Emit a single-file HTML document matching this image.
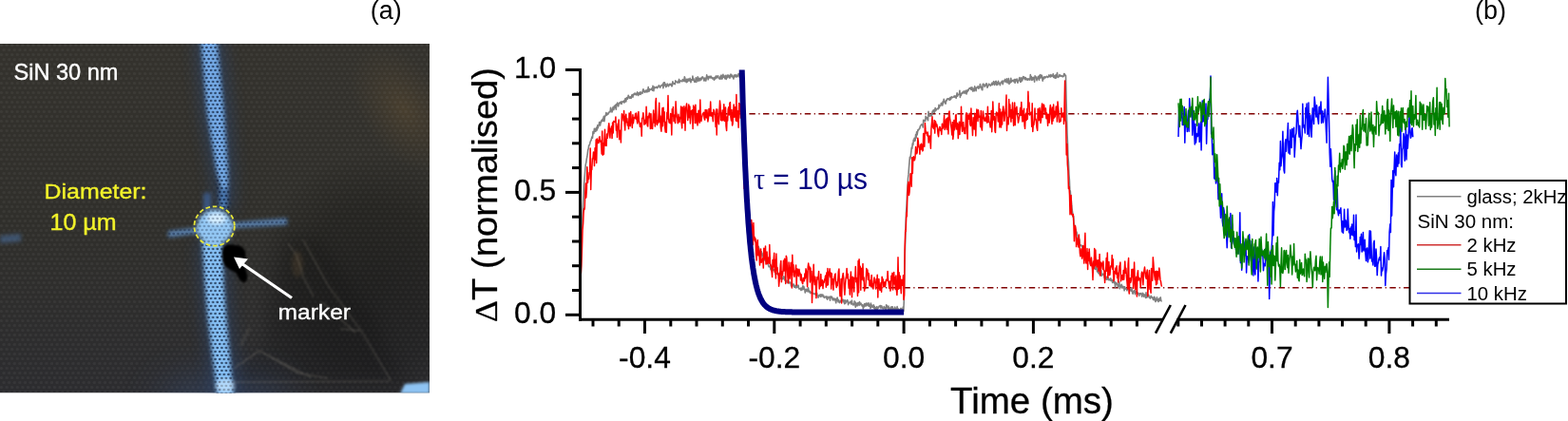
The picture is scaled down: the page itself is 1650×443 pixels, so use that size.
<!DOCTYPE html>
<html><head><meta charset="utf-8"><title>Figure</title>
<style>html,body{margin:0;padding:0;background:#fff;} svg{display:block;}</style>
</head><body>
<svg width="1650" height="443" viewBox="0 0 1650 443">
<rect width="1650" height="443" fill="#fff"/>
<defs>
  <clipPath id="pc"><rect x="0" y="46" width="452" height="367.5"/></clipPath>
  <filter id="b3" x="-50%" y="-50%" width="200%" height="200%"><feGaussianBlur stdDeviation="2.2"/></filter>
  <filter id="b2" x="-50%" y="-50%" width="200%" height="200%"><feGaussianBlur stdDeviation="1.5"/></filter>
  <filter id="b8" x="-50%" y="-50%" width="200%" height="200%"><feGaussianBlur stdDeviation="8"/></filter>
  <filter id="b20" x="-50%" y="-50%" width="200%" height="200%"><feGaussianBlur stdDeviation="20"/></filter>
  <filter id="bm" x="0" y="0" width="100%" height="100%"><feGaussianBlur stdDeviation="0.6"/></filter>
  <filter id="b1" x="-50%" y="-50%" width="200%" height="200%"><feGaussianBlur stdDeviation="0.9"/></filter>
  <pattern id="mesh" x="0" y="0" width="4.6" height="8" patternUnits="userSpaceOnUse">
    <ellipse cx="1.15" cy="2" rx="1.45" ry="1.15" fill="#0a1a36"/>
    <ellipse cx="3.45" cy="6" rx="1.45" ry="1.15" fill="#0a1a36"/>
  </pattern>
  <pattern id="meshl" x="0" y="0" width="5.6" height="10" patternUnits="userSpaceOnUse">
    <ellipse cx="4.2" cy="2.5" rx="1.8" ry="1.5" fill="#8a8a88"/>
    <ellipse cx="1.4" cy="7.5" rx="1.8" ry="1.5" fill="#8a8a88"/>
  </pattern>
  <radialGradient id="dark1" cx="0.5" cy="0.5" r="0.5">
    <stop offset="0" stop-color="#000" stop-opacity="0.3"/>
    <stop offset="0.6" stop-color="#000" stop-opacity="0.2"/>
    <stop offset="1" stop-color="#000" stop-opacity="0"/>
  </radialGradient>
  <radialGradient id="warm" cx="0.5" cy="0.5" r="0.5">
    <stop offset="0" stop-color="#6a5432" stop-opacity="0.4"/>
    <stop offset="1" stop-color="#5e4c30" stop-opacity="0"/>
  </radialGradient>
  <linearGradient id="bgv" x1="0" y1="0" x2="0" y2="1">
    <stop offset="0" stop-color="#34322d"/>
    <stop offset="0.5" stop-color="#302f2b"/>
    <stop offset="1" stop-color="#2c2c2f"/>
  </linearGradient>
  <mask id="bandmask" maskUnits="userSpaceOnUse" x="0" y="40" width="460" height="380">
    <g filter="url(#b2)" fill="#fff">
      <polygon points="209,40 230,40 238,120 242,181 242,222 230,222 226,181 216,120"/>
      <polygon points="210.5,252 235.5,252 237.6,300 240.3,335 247.5,414 249,420 226,420 226.4,414 216.5,335 213.7,300"/>
      <polygon points="175,242 215,237.5 240,233.5 304,228.5 304,237.5 240,241.5 215,245.5 175,251" fill="#999"/>
      <ellipse cx="226" cy="238" rx="21" ry="20.5" fill="#707070"/>
    </g>
  </mask>
</defs>
<g id="photo" clip-path="url(#pc)">
  <rect x="0" y="46" width="452" height="367.5" fill="url(#bgv)"/>
  <ellipse cx="0" cy="0" rx="45" ry="75" fill="url(#warm)" transform="translate(425,115) rotate(-35)"/>
  <rect x="0" y="46" width="452" height="367.5" fill="url(#meshl)" opacity="0.11"/>
  <ellipse cx="395" cy="300" rx="130" ry="140" fill="url(#dark1)"/>
  <!-- darker film area -->
  <polygon points="300,250 335,250 395,335 425,405 240,405 275,365" fill="#000" opacity="0.16" filter="url(#b8)"/>
  <!-- bluish glow at bottom near band -->
  <ellipse cx="235" cy="425" rx="70" ry="30" fill="#3a5a90" opacity="0.35" filter="url(#b20)"/>
  <!-- halo around bands -->
  <g filter="url(#b8)" opacity="0.45" fill="#2a4a7a">
    <polygon points="204,40 236,40 244,120 247,181 247,222 225,222 221,181 211,120"/>
    <polygon points="207,252 239,252 241.6,300 244.3,335 251.5,414 253,420 222,420 222.4,414 212.5,335 209.7,300"/>
  </g>
  <!-- horizontal band -->
  <g filter="url(#b3)">
    <polygon points="177,243 215,238.5 240,234.5 302,229.5 302,236.5 240,240.5 215,244.5 177,250" fill="#5a80ac"/>
    <polygon points="0,248 22,246 22,254 0,256" fill="#4a6c9c" opacity="0.6"/>
  </g>
  <!-- vertical band top -->
  <g filter="url(#b3)">
    <polygon points="211,40 228,40 236,120 240,181 240,200 233,200 228,181 218,120" fill="#74aae6"/>
    <polygon points="231,198 240,198 239,220 231,220" fill="#4b78b0"/>
    <polygon points="214,203 222,203 222,222 214,222" fill="#3a5680"/>
  </g>
  <!-- vertical band bottom -->
  <g filter="url(#b3)">
    <polygon points="212.5,252 233.5,252 235.6,300 238.3,335 245.5,414 247,420 228,420 228.4,414 218.5,335 215.7,300" fill="#86c0f4"/>
  </g>
  <!-- circle bright -->
  <ellipse cx="226" cy="239" rx="19" ry="18.5" fill="#94c8f4" filter="url(#b3)"/>
  <ellipse cx="228" cy="230" rx="10" ry="6" fill="#d6eeff" filter="url(#b3)"/>
  <!-- mesh on bands -->
  <g mask="url(#bandmask)"><rect x="0" y="40" width="460" height="380" fill="url(#mesh)" opacity="0.7" filter="url(#bm)"/></g>
  <!-- bottom bright spot -->
      <!-- film -->
  <g stroke="#b8b0a0" stroke-width="1.1" fill="none" opacity="0.28" filter="url(#b1)">
    <polyline points="319,252 345,300 380,348 411.5,401"/>
    <polyline points="303,256 312,268 319,291 330,312"/>
    <polyline points="339,318 374,350"/>
    <polyline points="358,346 380,348"/>
    <polyline points="247,387 273,369 313.7,392.6 345,398"/>
    <polyline points="245,402 410,401"/>
    <polyline points="280,373 327,397"/>
    <polyline points="262.6,345 253,364"/>
  </g>
  <ellipse cx="313" cy="278" rx="6" ry="14" fill="#8a6a40" opacity="0.18" filter="url(#b3)"/>
  <polygon points="426,404 452,402 452,414 421,414" fill="#8ec4f4" filter="url(#b2)"/>
  <ellipse cx="237" cy="406" rx="10" ry="7" fill="#d8eeff" opacity="0.55" filter="url(#b3)"/>
  <!-- marker blob -->
  <path d="M234.5,262 C236,257 243,256.5 248,258 C253,257.5 258,261 258.5,267 C259,273 257,278 258.5,284 C261,289 261,295 258,297 C254,298 251,293 249,288 C246,285 241,284 237,280 C234,275 233.5,268 234.5,262 Z" fill="#050505" filter="url(#b1)"/>
  <!-- arrow -->
  <line x1="254" y1="277" x2="307" y2="313.5" stroke="#fff" stroke-width="3.2"/>
  <polygon points="246,270.4 261,272.5 252,283" fill="#fff"/>
  <!-- dashed circle -->
  <ellipse cx="225.6" cy="238" rx="21.2" ry="20.7" fill="none" stroke="#e8e838" stroke-width="1.8" stroke-dasharray="4.6 2.8"/>
  <!-- texts -->
  <text x="14.5" y="83.7" font-family="Liberation Sans, Arial, sans-serif" font-size="23.2" fill="#fff" stroke="#fff" stroke-width="0.35" textLength="110" lengthAdjust="spacingAndGlyphs">SiN 30 nm</text>
  <text x="46.5" y="209.2" font-family="Liberation Sans, Arial, sans-serif" font-size="22.6" fill="#f2f22a" stroke="#f2f22a" stroke-width="0.35" textLength="108" lengthAdjust="spacingAndGlyphs">Diameter:</text>
  <text x="52.5" y="241.9" font-family="Liberation Sans, Arial, sans-serif" font-size="23" fill="#f2f22a" stroke="#f2f22a" stroke-width="0.35" textLength="70" lengthAdjust="spacingAndGlyphs">10 µm</text>
  <text x="292.5" y="336" font-family="Liberation Sans, Arial, sans-serif" font-size="22.6" fill="#fff" stroke="#fff" stroke-width="0.35" textLength="76.5" lengthAdjust="spacingAndGlyphs">marker</text>
</g>

<g id="plot">
<line x1="730" y1="119.7" x2="1525" y2="119.7" stroke="#800000" stroke-width="1.6" stroke-dasharray="6.4 3.5 1.2 3.5"/>
<line x1="893" y1="302.7" x2="1525" y2="302.7" stroke="#800000" stroke-width="1.6" stroke-dasharray="6.4 3.5 1.2 3.5"/>
<polyline points="612.1,252.7 612.5,237.4 613.0,224.2 613.5,215.1 614.0,205.3 614.4,195.9 614.9,190.6 615.4,184.1 615.9,177.4 616.3,172.9 616.8,171.1 617.3,167.1 617.8,165.0 618.3,161.4 618.7,157.8 619.2,156.5 619.7,152.7 620.2,152.7 620.6,151.7 621.1,149.3 621.6,148.1 622.1,147.6 622.5,145.5 623.0,143.9 623.5,145.2 624.0,138.6 624.5,138.4 624.9,140.4 625.4,135.4 625.9,138.1 626.4,135.5 626.8,138.4 627.3,135.4 627.8,134.2 628.3,136.9 628.8,131.7 629.2,134.8 629.7,133.1 630.2,131.0 630.7,128.6 631.1,130.6 631.6,132.0 632.1,128.1 632.6,128.9 633.0,126.5 633.5,127.4 634.0,125.4 634.5,127.3 635.0,124.0 635.4,122.4 635.9,127.6 636.4,123.6 636.9,121.7 637.3,121.8 637.8,118.6 638.3,121.3 638.8,119.9 639.2,119.1 639.7,120.4 640.2,119.2 640.7,118.8 641.2,117.6 641.6,117.8 642.1,117.8 642.6,113.2 643.1,116.4 643.5,115.2 644.0,118.0 644.5,116.5 645.0,112.8 645.4,114.0 645.9,115.5 646.4,111.3 646.9,112.1 647.4,113.5 647.8,110.3 648.3,115.1 648.8,109.6 649.3,110.2 649.7,108.1 650.2,110.9 650.7,111.8 651.2,108.8 651.6,108.8 652.1,107.8 652.6,108.8 653.1,107.6 653.6,106.9 654.0,109.5 654.5,107.8 655.0,106.9 655.5,106.7 655.9,107.4 656.4,106.1 656.9,108.0 657.4,107.3 657.9,103.7 658.3,103.9 658.8,106.9 659.3,102.9 659.8,102.6 660.2,104.3 660.7,103.5 661.2,100.2 661.7,101.7 662.1,102.6 662.6,103.3 663.1,101.7 663.6,102.9 664.1,103.5 664.5,101.6 665.0,99.8 665.5,101.6 666.0,102.2 666.4,99.1 666.9,99.7 667.4,99.5 667.9,98.0 668.3,99.5 668.8,98.8 669.3,98.3 669.8,100.0 670.3,99.5 670.7,96.9 671.2,99.3 671.7,100.5 672.2,97.8 672.6,99.1 673.1,99.1 673.6,96.9 674.1,99.4 674.5,97.4 675.0,97.4 675.5,97.3 676.0,98.3 676.5,94.7 676.9,93.8 677.4,95.6 677.9,96.6 678.4,97.2 678.8,96.8 679.3,95.1 679.8,95.4 680.3,96.9 680.7,95.0 681.2,94.4 681.7,96.6 682.2,91.6 682.7,95.3 683.1,96.1 683.6,93.7 684.1,94.0 684.6,94.5 685.0,94.2 685.5,94.2 686.0,92.7 686.5,95.1 687.0,90.3 687.4,93.3 687.9,95.7 688.4,91.4 688.9,91.9 689.3,92.2 689.8,92.6 690.3,91.8 690.8,91.3 691.2,91.3 691.7,92.7 692.2,91.8 692.7,91.3 693.2,89.9 693.6,90.0 694.1,90.7 694.6,92.3 695.1,91.0 695.5,90.3 696.0,89.9 696.5,89.9 697.0,89.8 697.4,88.3 697.9,92.8 698.4,86.7 698.9,90.5 699.4,86.8 699.8,88.1 700.3,88.5 700.8,91.6 701.3,90.0 701.7,90.8 702.2,88.1 702.7,88.9 703.2,89.8 703.6,90.8 704.1,89.1 704.6,88.4 705.1,89.4 705.6,88.7 706.0,88.1 706.5,89.9 707.0,90.8 707.5,89.8 707.9,85.7 708.4,88.0 708.9,88.0 709.4,88.1 709.8,87.5 710.3,88.6 710.8,84.8 711.3,85.9 711.8,85.8 712.2,86.4 712.7,86.8 713.2,86.3 713.7,87.1 714.1,85.1 714.6,83.4 715.1,87.0 715.6,85.5 716.1,84.9 716.5,85.3 717.0,85.3 717.5,85.8 718.0,85.7 718.4,83.5 718.9,84.9 719.4,84.1 719.9,85.5 720.3,80.8 720.8,82.1 721.3,85.8 721.8,83.9 722.3,86.6 722.7,83.3 723.2,86.2 723.7,83.8 724.2,83.0 724.6,84.9 725.1,85.2 725.6,84.0 726.1,82.3 726.5,84.5 727.0,86.7 727.5,83.8 728.0,83.7 728.5,84.1 728.9,80.1 729.4,84.1 729.9,82.8 730.4,85.1 730.8,86.3 731.3,86.2 731.8,84.9 732.3,81.7 732.7,86.5 733.2,83.5 733.7,83.5 734.2,80.8 734.7,85.4 735.1,84.6 735.6,82.4 736.1,84.1 736.6,84.9 737.0,82.4 737.5,82.5 738.0,83.9 738.5,81.3 738.9,81.9 739.4,80.9 739.9,81.5 740.4,83.2 740.9,84.9 741.3,83.8 741.8,82.1 742.3,84.8 742.8,85.1 743.2,82.9 743.7,78.9 744.2,81.9 744.7,80.5 745.2,83.8 745.6,81.7 746.1,80.2 746.6,80.7 747.1,81.9 747.5,81.7 748.0,80.1 748.5,82.0 749.0,81.3 749.4,81.6 749.9,83.0 750.4,82.1 750.9,81.9 751.4,84.2 751.8,82.7 752.3,81.3 752.8,82.9 753.3,80.1 753.7,79.9 754.2,81.9 754.7,80.2 755.2,80.9 755.6,79.8 756.1,81.9 756.6,82.6 757.1,82.7 757.6,83.1 758.0,80.3 758.5,82.9 759.0,79.1 759.5,81.0 759.9,83.1 760.4,81.4 760.9,78.4 761.4,81.2 761.8,79.9 762.3,81.1 762.8,82.8 763.3,79.4 763.8,80.9 764.2,83.4 764.7,80.6 765.2,79.1 765.7,81.7 766.1,79.5 766.6,79.0 767.1,79.4 767.6,81.8 768.0,82.2 768.5,79.9 769.0,78.0 769.5,80.1 770.0,80.9 770.4,79.1 770.9,79.9 771.4,81.4 771.9,83.0 772.3,80.8 772.8,78.9 773.3,80.7 773.8,80.7 774.3,78.6 774.7,79.4 775.2,81.0 775.7,80.6 776.2,80.4 776.6,78.2 777.1,77.7 777.6,77.4 778.1,81.1 778.5,77.7 779.0,82.4 779.5,80.7 780.0,79.0 780.5,80.0 780.9,89.2 781.4,109.4 781.9,127.0 782.4,143.2 782.8,154.0 783.3,166.5 783.8,177.8 784.3,184.6 784.7,191.0 785.2,200.4 785.7,203.3 786.2,210.3 786.7,213.2 787.1,217.5 787.6,219.4 788.1,224.4 788.6,229.2 789.0,233.3 789.5,233.4 790.0,236.7 790.5,236.0 790.9,239.3 791.4,240.7 791.9,243.9 792.4,247.6 792.9,248.4 793.3,251.6 793.8,252.8 794.3,250.4 794.8,253.3 795.2,254.5 795.7,255.3 796.2,255.6 796.7,256.8 797.1,259.8 797.6,261.1 798.1,259.3 798.6,260.9 799.1,264.1 799.5,265.8 800.0,264.5 800.5,265.2 801.0,267.3 801.4,264.8 801.9,268.2 802.4,269.7 802.9,267.1 803.4,272.3 803.8,271.5 804.3,273.6 804.8,270.5 805.3,274.5 805.7,274.4 806.2,275.0 806.7,277.4 807.2,275.2 807.6,273.4 808.1,277.3 808.6,279.3 809.1,280.7 809.6,280.4 810.0,280.2 810.5,280.8 811.0,283.8 811.5,279.1 811.9,282.0 812.4,285.1 812.9,280.5 813.4,284.5 813.8,283.5 814.3,284.4 814.8,284.0 815.3,284.9 815.8,285.8 816.2,288.6 816.7,286.7 817.2,288.3 817.7,288.2 818.1,287.5 818.6,288.6 819.1,288.5 819.6,290.0 820.0,290.7 820.5,292.1 821.0,293.6 821.5,293.2 822.0,291.5 822.4,289.4 822.9,293.6 823.4,292.6 823.9,293.7 824.3,292.5 824.8,290.7 825.3,291.7 825.8,294.7 826.2,295.2 826.7,294.4 827.2,296.0 827.7,296.5 828.2,297.4 828.6,295.5 829.1,297.8 829.6,294.2 830.1,297.5 830.5,297.9 831.0,297.2 831.5,297.7 832.0,297.1 832.5,301.0 832.9,298.9 833.4,298.9 833.9,301.2 834.4,300.4 834.8,299.0 835.3,299.0 835.8,302.2 836.3,301.3 836.7,302.2 837.2,300.2 837.7,303.0 838.2,301.4 838.7,300.0 839.1,302.2 839.6,300.7 840.1,300.2 840.6,303.8 841.0,303.9 841.5,303.9 842.0,303.7 842.5,303.2 842.9,305.5 843.4,303.3 843.9,305.0 844.4,302.6 844.9,300.9 845.3,304.5 845.8,301.4 846.3,303.1 846.8,304.3 847.2,308.0 847.7,305.1 848.2,306.6 848.7,304.3 849.1,304.4 849.6,305.9 850.1,307.0 850.6,302.8 851.1,306.4 851.5,305.9 852.0,307.8 852.5,306.7 853.0,308.6 853.4,307.5 853.9,308.0 854.4,308.8 854.9,308.9 855.3,308.6 855.8,308.8 856.3,309.1 856.8,309.4 857.3,309.5 857.7,308.9 858.2,310.0 858.7,308.9 859.2,310.4 859.6,308.2 860.1,311.1 860.6,311.9 861.1,313.2 861.6,310.8 862.0,311.3 862.5,310.2 863.0,311.4 863.5,312.3 863.9,309.7 864.4,311.9 864.9,310.0 865.4,311.4 865.8,310.0 866.3,312.3 866.8,311.3 867.3,313.4 867.8,312.7 868.2,312.8 868.7,312.3 869.2,311.9 869.7,313.9 870.1,312.1 870.6,315.1 871.1,314.0 871.6,313.2 872.0,312.2 872.5,312.8 873.0,313.6 873.5,316.2 874.0,311.7 874.4,313.4 874.9,312.7 875.4,312.2 875.9,314.2 876.3,315.7 876.8,314.0 877.3,315.7 877.8,314.1 878.2,315.8 878.7,314.6 879.2,316.1 879.7,318.8 880.2,314.2 880.6,316.4 881.1,313.0 881.6,315.6 882.1,317.8 882.5,315.5 883.0,317.7 883.5,318.6 884.0,318.0 884.4,316.6 884.9,316.2 885.4,316.3 885.9,316.3 886.4,316.1 886.8,315.1 887.3,317.8 887.8,315.8 888.3,317.0 888.7,319.8 889.2,315.9 889.7,319.2 890.2,316.6 890.7,317.8 891.1,316.5 891.6,315.5 892.1,316.7 892.6,320.6 893.0,318.0 893.5,318.9 894.0,318.7 894.5,318.6 894.9,317.2 895.4,318.3 895.9,320.1 896.4,316.1 896.9,319.5 897.3,319.7 897.8,320.9 898.3,319.7 898.8,320.6 899.2,316.9 899.7,317.6 900.2,323.3 900.7,318.6 901.1,319.9 901.6,321.8 902.1,321.9 902.6,318.9 903.1,319.9 903.5,318.6 904.0,321.4 904.5,317.6 905.0,319.6 905.4,320.6 905.9,319.0 906.4,320.3 906.9,321.3 907.3,322.2 907.8,320.5 908.3,324.9 908.8,322.1 909.3,323.0 909.7,319.8 910.2,319.5 910.7,321.9 911.2,322.0 911.6,319.0 912.1,321.0 912.6,319.2 913.1,321.6 913.5,320.7 914.0,318.7 914.5,322.3 915.0,320.5 915.5,320.8 915.9,324.5 916.4,319.1 916.9,323.4 917.4,321.0 917.8,322.2 918.3,323.2 918.8,322.9 919.3,320.9 919.8,324.5 920.2,322.4 920.7,326.3 921.2,323.7 921.7,326.5 922.1,323.6 922.6,322.6 923.1,326.6 923.6,323.3 924.0,324.0 924.5,323.9 925.0,322.4 925.5,322.7 926.0,321.5 926.4,321.6 926.9,324.1 927.4,321.9 927.9,322.1 928.3,323.7 928.8,324.4 929.3,324.8 929.8,324.9 930.2,322.6 930.7,324.5 931.2,323.6 931.7,325.1 932.2,325.5 932.6,320.8 933.1,321.3 933.6,322.8 934.1,324.2 934.5,325.6 935.0,322.0 935.5,326.3 936.0,324.4 936.4,324.1 936.9,327.0 937.4,324.6 937.9,322.7 938.4,323.4 938.8,327.6 939.3,322.8 939.8,326.8 940.3,324.9 940.7,325.1 941.2,326.5 941.7,323.1 942.2,324.9 942.6,324.4 943.1,327.2 943.6,326.5 944.1,322.6 944.6,325.2 945.0,325.6 945.5,325.1 946.0,326.7 946.5,328.3 946.9,327.3 947.4,325.6 947.9,324.3 948.4,324.7 948.9,327.9 949.3,327.1 949.8,326.9 950.3,323.0 950.8,327.4 951.2,318.8 951.7,291.9 952.2,269.1 952.7,252.2 953.1,236.7 953.6,222.5 954.1,215.8 954.6,203.3 955.1,196.4 955.5,187.6 956.0,183.9 956.5,176.0 957.0,170.3 957.4,165.2 957.9,166.9 958.4,163.2 958.9,158.9 959.3,155.1 959.8,156.2 960.3,150.9 960.8,152.4 961.3,147.1 961.7,148.3 962.2,145.2 962.7,148.5 963.2,147.2 963.6,141.5 964.1,145.2 964.6,138.8 965.1,141.9 965.5,139.4 966.0,136.5 966.5,136.9 967.0,136.2 967.5,135.1 967.9,135.0 968.4,132.7 968.9,132.1 969.4,131.5 969.8,130.8 970.3,131.7 970.8,131.6 971.3,134.0 971.7,126.4 972.2,128.0 972.7,126.8 973.2,126.1 973.7,127.5 974.1,122.4 974.6,124.6 975.1,124.9 975.6,123.7 976.0,124.0 976.5,126.8 977.0,117.3 977.5,121.2 978.0,121.7 978.4,122.1 978.9,120.8 979.4,121.0 979.9,121.9 980.3,122.0 980.8,119.4 981.3,117.0 981.8,117.8 982.2,115.8 982.7,116.0 983.2,118.3 983.7,115.6 984.2,113.5 984.6,116.6 985.1,115.4 985.6,115.5 986.1,114.2 986.5,114.2 987.0,114.1 987.5,114.7 988.0,110.3 988.4,113.4 988.9,111.3 989.4,111.2 989.9,111.1 990.4,108.5 990.8,110.0 991.3,108.3 991.8,111.0 992.3,106.5 992.7,108.7 993.2,104.3 993.7,106.0 994.2,107.2 994.6,107.4 995.1,109.2 995.6,105.6 996.1,106.0 996.6,104.0 997.0,104.6 997.5,103.9 998.0,104.0 998.5,104.8 998.9,103.6 999.4,105.2 999.9,102.6 1000.4,104.8 1000.8,103.9 1001.3,101.8 1001.8,102.2 1002.3,102.6 1002.8,102.4 1003.2,102.3 1003.7,101.8 1004.2,100.9 1004.7,102.1 1005.1,101.7 1005.6,101.0 1006.1,103.2 1006.6,101.2 1007.1,97.8 1007.5,101.3 1008.0,99.6 1008.5,99.6 1009.0,99.1 1009.4,99.5 1009.9,95.3 1010.4,102.4 1010.9,98.9 1011.3,100.3 1011.8,98.1 1012.3,98.5 1012.8,97.2 1013.3,98.0 1013.7,97.2 1014.2,95.9 1014.7,97.5 1015.2,98.2 1015.6,97.9 1016.1,95.2 1016.6,96.1 1017.1,99.0 1017.5,95.1 1018.0,96.7 1018.5,94.9 1019.0,95.1 1019.5,93.3 1019.9,93.3 1020.4,92.6 1020.9,93.4 1021.4,92.2 1021.8,94.4 1022.3,94.2 1022.8,91.8 1023.3,93.8 1023.7,96.0 1024.2,93.3 1024.7,93.3 1025.2,95.8 1025.7,90.9 1026.1,94.2 1026.6,92.6 1027.1,95.6 1027.6,92.1 1028.0,92.3 1028.5,91.6 1029.0,90.8 1029.5,92.9 1029.9,93.2 1030.4,91.4 1030.9,91.6 1031.4,88.5 1031.9,91.1 1032.3,92.4 1032.8,91.7 1033.3,94.5 1033.8,94.7 1034.2,88.7 1034.7,88.2 1035.2,89.0 1035.7,89.8 1036.2,91.3 1036.6,90.4 1037.1,88.9 1037.6,88.2 1038.1,87.8 1038.5,90.6 1039.0,92.3 1039.5,90.3 1040.0,90.4 1040.4,88.3 1040.9,88.6 1041.4,89.1 1041.9,89.3 1042.4,90.3 1042.8,89.1 1043.3,89.1 1043.8,87.3 1044.3,89.3 1044.7,88.9 1045.2,86.7 1045.7,85.7 1046.2,88.1 1046.6,89.5 1047.1,87.9 1047.6,85.8 1048.1,85.3 1048.6,88.8 1049.0,89.6 1049.5,86.7 1050.0,88.9 1050.5,85.4 1050.9,87.6 1051.4,87.2 1051.9,88.5 1052.4,89.7 1052.8,87.8 1053.3,86.7 1053.8,87.0 1054.3,85.6 1054.8,85.2 1055.2,88.6 1055.7,86.7 1056.2,85.0 1056.7,85.0 1057.1,84.9 1057.6,83.4 1058.1,86.3 1058.6,85.3 1059.0,86.0 1059.5,82.7 1060.0,87.2 1060.5,85.3 1061.0,86.2 1061.4,82.5 1061.9,88.5 1062.4,85.4 1062.9,87.0 1063.3,86.9 1063.8,82.4 1064.3,86.1 1064.8,85.7 1065.3,84.6 1065.7,84.6 1066.2,85.1 1066.7,85.8 1067.2,83.7 1067.6,83.5 1068.1,87.3 1068.6,83.6 1069.1,85.1 1069.5,84.1 1070.0,83.0 1070.5,86.1 1071.0,87.2 1071.5,84.9 1071.9,85.1 1072.4,83.0 1072.9,81.5 1073.4,82.9 1073.8,86.3 1074.3,86.2 1074.8,81.9 1075.3,83.4 1075.7,84.9 1076.2,82.7 1076.7,80.5 1077.2,82.4 1077.7,81.0 1078.1,82.5 1078.6,83.7 1079.1,81.5 1079.6,82.4 1080.0,83.7 1080.5,84.0 1081.0,82.8 1081.5,84.2 1081.9,83.9 1082.4,82.9 1082.9,83.1 1083.4,84.0 1083.9,84.1 1084.3,78.6 1084.8,80.6 1085.3,80.6 1085.8,84.4 1086.2,81.7 1086.7,83.9 1087.2,81.3 1087.7,82.5 1088.1,82.1 1088.6,86.1 1089.1,79.8 1089.6,80.9 1090.1,80.9 1090.5,81.8 1091.0,84.7 1091.5,82.8 1092.0,81.6 1092.4,80.4 1092.9,82.0 1093.4,84.1 1093.9,79.3 1094.4,82.1 1094.8,78.6 1095.3,80.3 1095.8,81.6 1096.3,79.2 1096.7,81.9 1097.2,85.2 1097.7,81.8 1098.2,81.2 1098.6,82.9 1099.1,81.0 1099.6,80.8 1100.1,81.8 1100.6,81.2 1101.0,80.8 1101.5,80.3 1102.0,80.6 1102.5,81.5 1102.9,80.8 1103.4,80.7 1103.9,78.9 1104.4,80.4 1104.8,79.2 1105.3,81.0 1105.8,78.6 1106.3,79.2 1106.8,80.5 1107.2,79.9 1107.7,79.7 1108.2,77.7 1108.7,81.4 1109.1,79.6 1109.6,80.7 1110.1,82.1 1110.6,79.1 1111.0,82.3 1111.5,80.3 1112.0,78.6 1112.5,76.6 1113.0,81.5 1113.4,80.8 1113.9,81.1 1114.4,80.5 1114.9,78.6 1115.3,79.5 1115.8,80.1 1116.3,79.4 1116.8,80.2 1117.2,79.9 1117.7,80.0 1118.2,80.8 1118.7,79.9 1119.2,80.3 1119.6,77.6 1120.1,77.6 1120.6,78.7 1121.1,80.1 1121.5,79.4 1122.0,103.1 1122.5,122.1 1123.0,140.5 1123.5,151.0 1123.9,164.7 1124.4,170.6 1124.9,183.0 1125.4,189.8 1125.8,200.3 1126.3,201.0 1126.8,209.0 1127.3,210.7 1127.7,216.2 1128.2,221.0 1128.7,224.1 1129.2,228.4 1129.7,227.5 1130.1,235.3 1130.6,237.7 1131.1,237.4 1131.6,240.5 1132.0,241.6 1132.5,243.8 1133.0,244.2 1133.5,247.7 1133.9,247.9 1134.4,249.9 1134.9,251.3 1135.4,253.4 1135.9,252.1 1136.3,257.4 1136.8,258.4 1137.3,257.8 1137.8,258.5 1138.2,258.4 1138.7,260.0 1139.2,260.7 1139.7,261.5 1140.1,262.2 1140.6,266.3 1141.1,265.7 1141.6,268.8 1142.1,264.4 1142.5,264.3 1143.0,270.6 1143.5,270.4 1144.0,270.3 1144.4,269.9 1144.9,269.7 1145.4,273.5 1145.9,273.0 1146.3,273.4 1146.8,275.4 1147.3,277.2 1147.8,277.0 1148.3,276.1 1148.7,276.5 1149.2,277.8 1149.7,280.7 1150.2,279.3 1150.6,280.2 1151.1,279.3 1151.6,280.1 1152.1,282.7 1152.6,283.4 1153.0,283.2 1153.5,280.4 1154.0,282.4 1154.5,286.0 1154.9,283.0 1155.4,283.3 1155.9,287.6 1156.4,287.6 1156.8,286.7 1157.3,288.9 1157.8,289.6 1158.3,285.8 1158.8,284.8 1159.2,290.3 1159.7,289.4 1160.2,288.4 1160.7,289.0 1161.1,288.0 1161.6,289.4 1162.1,291.2 1162.6,293.1 1163.0,291.0 1163.5,293.7 1164.0,291.4 1164.5,294.1 1165.0,291.5 1165.4,290.8 1165.9,294.1 1166.4,292.5 1166.9,294.7 1167.3,294.0 1167.8,294.1 1168.3,295.0 1168.8,292.9 1169.2,295.5 1169.7,294.2 1170.2,295.0 1170.7,297.5 1171.2,296.8 1171.6,294.1 1172.1,297.0 1172.6,297.9 1173.1,296.3 1173.5,302.2 1174.0,299.1 1174.5,297.5 1175.0,298.8 1175.4,298.4 1175.9,299.5 1176.4,301.6 1176.9,300.7 1177.4,299.1 1177.8,296.3 1178.3,303.8 1178.8,301.7 1179.3,300.3 1179.7,301.9 1180.2,299.2 1180.7,301.2 1181.2,302.8 1181.7,301.4 1182.1,301.9 1182.6,301.5 1183.1,305.8 1183.6,301.8 1184.0,304.1 1184.5,303.3 1185.0,303.9 1185.5,303.7 1185.9,305.8 1186.4,304.0 1186.9,303.7 1187.4,302.2 1187.9,303.2 1188.3,307.1 1188.8,304.8 1189.3,305.2 1189.8,304.2 1190.2,306.2 1190.7,302.7 1191.2,304.9 1191.7,308.5 1192.1,309.2 1192.6,308.0 1193.1,306.0 1193.6,306.7 1194.1,305.6 1194.5,309.6 1195.0,308.5 1195.5,306.7 1196.0,308.2 1196.4,308.4 1196.9,307.7 1197.4,309.1 1197.9,308.6 1198.3,310.0 1198.8,311.1 1199.3,308.9 1199.8,309.1 1200.3,308.6 1200.7,309.8 1201.2,309.9 1201.7,312.2 1202.2,308.2 1202.6,310.2 1203.1,309.0 1203.6,312.2 1204.1,309.8 1204.5,311.0 1205.0,310.7 1205.5,313.4 1206.0,307.7 1206.5,313.1 1206.9,312.6 1207.4,312.6 1207.9,309.7 1208.4,310.9 1208.8,310.6 1209.3,313.0 1209.8,312.6 1210.3,314.1 1210.8,312.9 1211.2,311.3 1211.7,313.0 1212.2,313.0 1212.7,312.7 1213.1,314.3 1213.6,315.4 1214.1,315.6 1214.6,312.3 1215.0,312.9 1215.5,315.2 1216.0,317.5 1216.5,314.9 1217.0,314.7 1217.4,312.9 1217.9,316.2 1218.4,314.7 1218.9,317.5 1219.3,316.1 1219.8,314.1 1220.3,316.4 1220.8,316.0 1221.2,312.9 1221.7,316.0 1222.2,316.9 1222.7,316.9" fill="none" stroke="#808080" stroke-width="1.6" stroke-linejoin="round"/>
<polyline points="611.4,287.6 611.9,279.0 612.5,260.5 613.0,242.1 613.6,235.5 614.1,224.0 614.6,219.2 615.2,220.1 615.7,204.6 616.3,193.1 616.8,207.9 617.4,199.1 617.9,175.7 618.5,192.2 619.0,187.5 619.6,188.3 620.1,181.5 620.6,183.1 621.2,156.0 621.7,199.4 622.3,178.1 622.8,178.5 623.4,166.8 623.9,167.0 624.5,159.9 625.0,163.2 625.5,174.6 626.1,155.7 626.6,168.1 627.2,146.9 627.7,171.6 628.3,145.9 628.8,150.5 629.4,148.0 629.9,150.6 630.5,144.9 631.0,143.7 631.5,149.0 632.1,148.2 632.6,151.1 633.2,162.0 633.7,138.0 634.3,163.2 634.8,150.9 635.4,162.2 635.9,148.3 636.5,136.3 637.0,153.1 637.5,146.8 638.1,153.4 638.6,141.1 639.2,145.3 639.7,142.7 640.3,133.3 640.8,129.8 641.4,137.3 641.9,145.1 642.4,135.6 643.0,136.0 643.5,133.0 644.1,145.6 644.6,129.0 645.2,139.9 645.7,127.5 646.3,128.3 646.8,128.0 647.4,128.4 647.9,123.0 648.4,137.1 649.0,133.0 649.5,144.4 650.1,130.3 650.6,133.3 651.2,125.9 651.7,146.8 652.3,140.0 652.8,137.3 653.4,150.0 653.9,132.0 654.4,119.8 655.0,122.2 655.5,121.6 656.1,126.9 656.6,116.5 657.2,131.0 657.7,137.0 658.3,122.7 658.8,120.2 659.3,128.7 659.9,124.8 660.4,131.9 661.0,129.1 661.5,135.6 662.1,119.0 662.6,128.2 663.2,132.7 663.7,117.4 664.3,126.4 664.8,128.6 665.3,134.4 665.9,120.7 666.4,129.7 667.0,125.4 667.5,123.5 668.1,124.3 668.6,119.6 669.2,125.2 669.7,119.0 670.3,127.1 670.8,129.9 671.3,126.5 671.9,117.5 672.4,126.9 673.0,129.6 673.5,133.4 674.1,131.3 674.6,129.5 675.2,143.2 675.7,124.4 676.3,124.1 676.8,118.7 677.3,121.9 677.9,131.1 678.4,126.5 679.0,130.4 679.5,129.2 680.1,112.3 680.6,122.0 681.2,131.9 681.7,133.0 682.2,122.4 682.8,123.7 683.3,119.1 683.9,120.3 684.4,135.5 685.0,119.8 685.5,135.1 686.1,130.6 686.6,135.4 687.2,123.3 687.7,115.9 688.2,128.9 688.8,120.3 689.3,133.0 689.9,107.7 690.4,103.4 691.0,130.2 691.5,131.5 692.1,126.8 692.6,129.5 693.2,119.4 693.7,108.2 694.2,128.6 694.8,122.1 695.3,134.5 695.9,138.2 696.4,123.0 697.0,113.8 697.5,132.8 698.1,113.2 698.6,127.8 699.1,117.8 699.7,133.8 700.2,138.9 700.8,128.6 701.3,139.2 701.9,118.3 702.4,124.7 703.0,100.5 703.5,124.1 704.1,129.0 704.6,126.2 705.1,129.7 705.7,119.5 706.2,120.6 706.8,142.1 707.3,114.7 707.9,122.2 708.4,112.4 709.0,127.8 709.5,121.0 710.1,125.3 710.6,129.6 711.1,106.8 711.7,118.0 712.2,122.4 712.8,125.2 713.3,129.7 713.9,120.3 714.4,126.6 715.0,128.6 715.5,123.2 716.1,124.8 716.6,112.0 717.1,129.0 717.7,134.8 718.2,112.8 718.8,122.6 719.3,129.4 719.9,111.8 720.4,115.5 721.0,137.2 721.5,114.1 722.0,112.5 722.6,108.9 723.1,118.6 723.7,126.6 724.2,122.2 724.8,110.0 725.3,123.8 725.9,112.1 726.4,129.9 727.0,123.3 727.5,116.6 728.0,116.6 728.6,115.8 729.1,135.6 729.7,110.9 730.2,113.6 730.8,112.9 731.3,129.4 731.9,110.3 732.4,124.0 733.0,129.7 733.5,119.5 734.0,132.0 734.6,127.5 735.1,116.3 735.7,121.3 736.2,129.3 736.8,105.0 737.3,123.9 737.9,127.7 738.4,123.8 738.9,122.1 739.5,119.5 740.0,119.0 740.6,118.3 741.1,124.7 741.7,126.1 742.2,115.4 742.8,121.9 743.3,123.9 743.9,115.5 744.4,120.4 744.9,127.9 745.5,124.0 746.0,114.5 746.6,117.4 747.1,121.9 747.7,107.0 748.2,121.0 748.8,122.2 749.3,118.5 749.9,124.0 750.4,127.7 750.9,115.2 751.5,116.5 752.0,119.7 752.6,121.1 753.1,133.4 753.7,115.0 754.2,142.1 754.8,114.9 755.3,125.0 755.9,127.2 756.4,130.7 756.9,118.3 757.5,106.1 758.0,110.7 758.6,126.4 759.1,118.9 759.7,127.0 760.2,115.9 760.8,126.5 761.3,123.8 761.8,109.8 762.4,127.4 762.9,126.3 763.5,113.1 764.0,132.5 764.6,137.5 765.1,122.9 765.7,126.9 766.2,115.1 766.8,112.7 767.3,121.0 767.8,108.8 768.4,107.6 768.9,122.8 769.5,126.9 770.0,115.5 770.6,132.0 771.1,130.0 771.7,116.9 772.2,109.9 772.8,123.2 773.3,112.7 773.8,114.4 774.4,127.0 774.9,99.6 775.5,127.8 776.0,116.6 776.6,118.4 777.1,134.3 777.7,108.6 778.2,113.7 778.7,109.6 779.3,124.3 779.8,123.2 780.4,101.9 780.9,118.1 781.5,141.9 782.0,157.6 782.6,163.4 783.1,198.4 783.7,182.7 784.2,191.9 784.7,202.6 785.3,213.4 785.8,213.4 786.4,214.8 786.9,235.8 787.5,235.4 788.0,223.9 788.6,238.1 789.1,237.0 789.7,241.5 790.2,240.7 790.7,231.4 791.3,237.2 791.8,247.3 792.4,257.4 792.9,234.6 793.5,251.7 794.0,249.3 794.6,253.8 795.1,251.3 795.6,268.0 796.2,273.9 796.7,255.7 797.3,252.6 797.8,268.8 798.4,261.4 798.9,266.7 799.5,278.9 800.0,268.4 800.6,262.1 801.1,276.3 801.6,273.9 802.2,274.8 802.7,271.8 803.3,282.1 803.8,261.2 804.4,272.8 804.9,267.4 805.5,259.1 806.0,278.1 806.6,272.9 807.1,265.0 807.6,277.5 808.2,272.8 808.7,271.1 809.3,276.9 809.8,257.4 810.4,276.3 810.9,279.6 811.5,280.2 812.0,285.5 812.6,291.5 813.1,273.5 813.6,281.1 814.2,272.7 814.7,266.2 815.3,286.4 815.8,273.5 816.4,292.9 816.9,267.1 817.5,284.7 818.0,281.6 818.5,288.7 819.1,287.5 819.6,301.3 820.2,294.6 820.7,288.4 821.3,278.5 821.8,274.5 822.4,296.7 822.9,285.9 823.5,289.8 824.0,284.5 824.5,274.2 825.1,285.0 825.6,272.3 826.2,273.5 826.7,298.6 827.3,269.3 827.8,270.9 828.4,282.5 828.9,291.1 829.5,297.7 830.0,275.9 830.5,283.5 831.1,293.1 831.6,286.3 832.2,276.3 832.7,280.2 833.3,303.0 833.8,268.2 834.4,286.0 834.9,278.5 835.4,289.6 836.0,291.1 836.5,285.2 837.1,284.5 837.6,279.0 838.2,299.9 838.7,282.8 839.3,283.3 839.8,289.6 840.4,290.7 840.9,283.2 841.4,286.4 842.0,287.5 842.5,295.0 843.1,288.8 843.6,293.9 844.2,297.4 844.7,298.6 845.3,292.5 845.8,293.3 846.4,295.7 846.9,288.0 847.4,292.9 848.0,282.8 848.5,285.1 849.1,292.8 849.6,301.7 850.2,280.9 850.7,277.1 851.3,283.1 851.8,280.5 852.4,297.0 852.9,282.1 853.4,294.7 854.0,285.5 854.5,318.6 855.1,300.1 855.6,290.5 856.2,278.3 856.7,294.8 857.3,299.6 857.8,291.3 858.3,295.8 858.9,313.6 859.4,300.8 860.0,291.6 860.5,293.9 861.1,291.6 861.6,285.5 862.2,303.9 862.7,300.9 863.3,301.2 863.8,288.6 864.3,300.4 864.9,297.6 865.4,294.8 866.0,303.6 866.5,296.5 867.1,297.4 867.6,294.4 868.2,292.7 868.7,290.0 869.3,302.2 869.8,287.1 870.3,300.2 870.9,282.5 871.4,299.8 872.0,286.3 872.5,289.6 873.1,282.8 873.6,291.6 874.2,287.0 874.7,303.9 875.2,287.8 875.8,299.1 876.3,293.6 876.9,305.1 877.4,298.8 878.0,292.2 878.5,289.1 879.1,288.0 879.6,299.1 880.2,302.5 880.7,297.1 881.2,300.8 881.8,294.0 882.3,285.9 882.9,282.9 883.4,302.2 884.0,311.7 884.5,310.3 885.1,293.5 885.6,319.0 886.2,294.3 886.7,290.3 887.2,287.6 887.8,292.8 888.3,302.8 888.9,310.3 889.4,300.9 890.0,293.3 890.5,291.0 891.1,282.4 891.6,292.8 892.2,288.2 892.7,296.3 893.2,303.2 893.8,294.6 894.3,310.1 894.9,293.7 895.4,285.9 896.0,301.8 896.5,312.7 897.1,291.3 897.6,301.2 898.1,292.0 898.7,306.9 899.2,292.8 899.8,293.2 900.3,280.6 900.9,296.7 901.4,292.5 902.0,300.4 902.5,311.4 903.1,274.4 903.6,307.8 904.1,272.8 904.7,288.0 905.2,280.3 905.8,305.3 906.3,282.2 906.9,294.2 907.4,289.0 908.0,277.6 908.5,295.4 909.1,292.1 909.6,306.1 910.1,301.8 910.7,303.6 911.2,296.8 911.8,282.6 912.3,289.4 912.9,283.9 913.4,294.5 914.0,287.5 914.5,289.8 915.0,300.7 915.6,298.3 916.1,295.0 916.7,301.8 917.2,289.6 917.8,301.6 918.3,298.9 918.9,303.9 919.4,296.9 920.0,291.9 920.5,297.4 921.0,297.1 921.6,303.9 922.1,293.7 922.7,297.1 923.2,289.2 923.8,312.9 924.3,294.0 924.9,293.5 925.4,302.5 926.0,305.4 926.5,302.2 927.0,297.6 927.6,307.3 928.1,291.2 928.7,293.7 929.2,294.0 929.8,302.0 930.3,298.1 930.9,296.8 931.4,301.7 931.9,299.0 932.5,294.2 933.0,295.3 933.6,294.9 934.1,285.4 934.7,295.6 935.2,297.8 935.8,303.4 936.3,296.1 936.9,306.1 937.4,304.0 937.9,290.2 938.5,292.5 939.0,287.2 939.6,305.0 940.1,290.5 940.7,286.6 941.2,299.0 941.8,292.1 942.3,304.5 942.9,290.0 943.4,305.5 943.9,310.5 944.5,299.6 945.0,270.8 945.6,304.2 946.1,286.8 946.7,303.2 947.2,290.2 947.8,301.3 948.3,308.8 948.9,294.3 949.4,295.2 949.9,300.2 950.5,289.8 951.0,315.3 951.6,310.7 952.1,263.7 952.7,242.2 953.2,243.5 953.8,223.7 954.3,227.7 954.8,206.4 955.4,195.1 955.9,191.3 956.5,205.5 957.0,202.5 957.6,193.1 958.1,182.9 958.7,182.6 959.2,196.2 959.8,165.8 960.3,182.6 960.8,166.9 961.4,164.8 961.9,168.8 962.5,168.3 963.0,166.1 963.6,154.6 964.1,160.7 964.7,161.8 965.2,160.3 965.8,145.3 966.3,148.8 966.8,154.7 967.4,154.7 967.9,162.3 968.5,152.2 969.0,157.3 969.6,151.2 970.1,154.1 970.7,158.8 971.2,158.6 971.7,140.5 972.3,143.6 972.8,154.2 973.4,129.5 973.9,136.4 974.5,140.1 975.0,139.4 975.6,142.7 976.1,138.9 976.7,142.5 977.2,150.1 977.7,143.2 978.3,143.1 978.8,146.2 979.4,156.2 979.9,136.0 980.5,129.2 981.0,122.8 981.6,133.5 982.1,134.6 982.7,135.5 983.2,126.5 983.7,140.1 984.3,127.4 984.8,129.3 985.4,133.0 985.9,131.1 986.5,135.0 987.0,140.8 987.6,143.7 988.1,136.2 988.7,133.6 989.2,133.7 989.7,137.5 990.3,136.1 990.8,141.4 991.4,130.3 991.9,135.5 992.5,134.0 993.0,130.3 993.6,121.3 994.1,136.4 994.6,134.4 995.2,127.3 995.7,125.2 996.3,136.2 996.8,124.3 997.4,124.0 997.9,141.0 998.5,118.6 999.0,116.9 999.6,124.8 1000.1,127.7 1000.6,131.8 1001.2,135.6 1001.7,141.9 1002.3,128.6 1002.8,146.4 1003.4,141.2 1003.9,126.5 1004.5,136.7 1005.0,133.5 1005.6,121.5 1006.1,120.5 1006.6,136.1 1007.2,129.5 1007.7,130.4 1008.3,145.6 1008.8,136.1 1009.4,128.2 1009.9,141.5 1010.5,128.3 1011.0,132.4 1011.5,112.2 1012.1,134.2 1012.6,138.3 1013.2,129.6 1013.7,128.6 1014.3,137.1 1014.8,140.2 1015.4,134.5 1015.9,140.7 1016.5,120.6 1017.0,118.8 1017.5,130.3 1018.1,146.2 1018.6,121.0 1019.2,123.0 1019.7,125.3 1020.3,119.2 1020.8,130.8 1021.4,132.5 1021.9,114.1 1022.5,131.2 1023.0,131.5 1023.5,142.6 1024.1,123.8 1024.6,126.6 1025.2,135.9 1025.7,119.2 1026.3,127.8 1026.8,142.9 1027.4,121.8 1027.9,115.0 1028.5,120.1 1029.0,127.6 1029.5,115.7 1030.1,121.9 1030.6,123.2 1031.2,122.2 1031.7,133.6 1032.3,116.5 1032.8,134.3 1033.4,137.1 1033.9,125.2 1034.4,117.0 1035.0,121.3 1035.5,125.3 1036.1,127.4 1036.6,126.1 1037.2,123.2 1037.7,127.6 1038.3,119.7 1038.8,129.3 1039.4,112.3 1039.9,128.2 1040.4,122.4 1041.0,128.8 1041.5,128.9 1042.1,133.9 1042.6,131.7 1043.2,116.5 1043.7,138.7 1044.3,126.5 1044.8,107.0 1045.4,122.9 1045.9,126.5 1046.4,122.5 1047.0,137.9 1047.5,139.4 1048.1,121.4 1048.6,117.9 1049.2,121.0 1049.7,118.9 1050.3,128.0 1050.8,122.7 1051.3,108.7 1051.9,133.9 1052.4,114.9 1053.0,129.7 1053.5,134.0 1054.1,118.0 1054.6,131.0 1055.2,115.8 1055.7,112.0 1056.3,117.7 1056.8,127.3 1057.3,124.0 1057.9,117.9 1058.4,113.4 1059.0,100.0 1059.5,137.4 1060.1,123.5 1060.6,128.9 1061.2,130.8 1061.7,104.4 1062.3,122.7 1062.8,110.0 1063.3,122.6 1063.9,128.2 1064.4,115.6 1065.0,124.2 1065.5,108.0 1066.1,121.9 1066.6,132.2 1067.2,123.1 1067.7,108.1 1068.2,131.7 1068.8,113.9 1069.3,119.1 1069.9,112.2 1070.4,120.5 1071.0,123.3 1071.5,129.1 1072.1,125.7 1072.6,122.9 1073.2,118.8 1073.7,113.6 1074.2,121.3 1074.8,107.4 1075.3,119.5 1075.9,128.0 1076.4,116.6 1077.0,127.5 1077.5,114.2 1078.1,132.2 1078.6,135.3 1079.2,120.7 1079.7,119.2 1080.2,126.5 1080.8,114.4 1081.3,125.2 1081.9,96.2 1082.4,110.5 1083.0,108.0 1083.5,121.1 1084.1,119.2 1084.6,120.1 1085.2,117.9 1085.7,133.2 1086.2,108.7 1086.8,138.5 1087.3,131.2 1087.9,131.5 1088.4,126.1 1089.0,113.9 1089.5,125.8 1090.1,125.2 1090.6,130.2 1091.1,134.8 1091.7,137.2 1092.2,114.5 1092.8,119.7 1093.3,126.8 1093.9,113.5 1094.4,117.1 1095.0,129.4 1095.5,126.5 1096.1,113.4 1096.6,109.1 1097.1,123.6 1097.7,112.5 1098.2,109.9 1098.8,111.4 1099.3,120.1 1099.9,114.3 1100.4,114.0 1101.0,124.7 1101.5,119.0 1102.1,122.8 1102.6,132.3 1103.1,120.3 1103.7,122.7 1104.2,129.1 1104.8,115.0 1105.3,110.5 1105.9,114.7 1106.4,124.7 1107.0,130.4 1107.5,113.0 1108.0,127.2 1108.6,110.0 1109.1,124.3 1109.7,117.3 1110.2,122.9 1110.8,119.4 1111.3,111.9 1111.9,115.5 1112.4,128.1 1113.0,106.9 1113.5,112.4 1114.0,117.2 1114.6,128.6 1115.1,126.4 1115.7,127.9 1116.2,127.4 1116.8,113.8 1117.3,121.1 1117.9,123.1 1118.4,119.9 1119.0,118.8 1119.5,130.4 1120.0,115.6 1120.6,85.1 1121.1,126.2 1121.7,128.8 1122.2,162.9 1122.8,151.6 1123.3,173.0 1123.9,179.6 1124.4,198.5 1125.0,196.5 1125.5,205.2 1126.0,225.8 1126.6,218.7 1127.1,205.5 1127.7,225.3 1128.2,226.1 1128.8,227.0 1129.3,225.5 1129.9,236.0 1130.4,253.8 1130.9,238.2 1131.5,237.6 1132.0,241.7 1132.6,259.6 1133.1,249.9 1133.7,256.9 1134.2,251.9 1134.8,260.0 1135.3,246.9 1135.9,255.9 1136.4,266.3 1136.9,269.7 1137.5,266.6 1138.0,261.8 1138.6,272.1 1139.1,268.2 1139.7,258.5 1140.2,266.0 1140.8,277.1 1141.3,258.4 1141.9,245.2 1142.4,273.0 1142.9,277.0 1143.5,273.7 1144.0,261.5 1144.6,283.5 1145.1,265.8 1145.7,274.3 1146.2,261.9 1146.8,273.9 1147.3,278.1 1147.8,279.6 1148.4,271.0 1148.9,277.8 1149.5,283.2 1150.0,294.5 1150.6,274.9 1151.1,282.8 1151.7,261.4 1152.2,280.0 1152.8,263.0 1153.3,279.0 1153.8,273.2 1154.4,281.1 1154.9,278.0 1155.5,273.7 1156.0,285.4 1156.6,279.6 1157.1,267.4 1157.7,290.1 1158.2,284.7 1158.8,275.9 1159.3,277.8 1159.8,277.5 1160.4,283.2 1160.9,275.0 1161.5,283.4 1162.0,285.6 1162.6,297.4 1163.1,288.8 1163.7,282.7 1164.2,271.6 1164.8,285.3 1165.3,266.0 1165.8,292.3 1166.4,284.4 1166.9,275.5 1167.5,289.5 1168.0,288.9 1168.6,281.4 1169.1,279.5 1169.7,280.7 1170.2,268.6 1170.7,283.1 1171.3,272.8 1171.8,295.8 1172.4,294.0 1172.9,285.4 1173.5,287.5 1174.0,282.1 1174.6,288.4 1175.1,279.7 1175.7,292.5 1176.2,287.2 1176.7,297.1 1177.3,288.9 1177.8,280.4 1178.4,279.0 1178.9,275.9 1179.5,295.8 1180.0,294.1 1180.6,289.7 1181.1,289.5 1181.7,294.4 1182.2,284.4 1182.7,294.1 1183.3,283.5 1183.8,274.9 1184.4,287.2 1184.9,282.3 1185.5,291.8 1186.0,297.0 1186.6,304.1 1187.1,277.7 1187.6,271.6 1188.2,309.1 1188.7,297.4 1189.3,292.7 1189.8,297.2 1190.4,294.6 1190.9,283.5 1191.5,291.5 1192.0,283.2 1192.6,303.5 1193.1,293.0 1193.6,275.9 1194.2,295.9 1194.7,304.8 1195.3,295.3 1195.8,291.2 1196.4,311.9 1196.9,288.6 1197.5,284.7 1198.0,295.1 1198.6,292.3 1199.1,292.8 1199.6,293.3 1200.2,302.4 1200.7,296.6 1201.3,287.1 1201.8,286.1 1202.4,288.5 1202.9,299.7 1203.5,287.8 1204.0,284.4 1204.5,281.0 1205.1,286.6 1205.6,291.6 1206.2,293.2 1206.7,286.9 1207.3,284.1 1207.8,311.5 1208.4,299.8 1208.9,290.9 1209.5,284.5 1210.0,304.4 1210.5,303.8 1211.1,308.2 1211.6,282.4 1212.2,287.5 1212.7,295.2 1213.3,270.7 1213.8,276.6 1214.4,285.8 1214.9,290.4 1215.5,294.4 1216.0,285.4 1216.5,299.7 1217.1,285.3 1217.6,298.8 1218.2,285.8 1218.7,294.2 1219.3,289.0 1219.8,282.0 1220.4,286.9 1220.9,294.4 1221.5,296.0 1222.0,299.6 1222.5,301.6" fill="none" stroke="#ff0000" stroke-width="1.5" stroke-linejoin="round"/>
<polyline points="780.7,73.5 781.1,85.9 781.4,97.8 781.7,109.0 782.1,119.7 782.4,129.9 782.8,139.6 783.1,148.8 783.5,157.6 783.8,165.9 784.1,173.8 784.5,181.4 784.8,188.5 785.2,195.4 785.5,201.9 785.8,208.0 786.2,213.9 786.5,219.5 786.9,224.8 787.2,229.9 787.5,234.7 787.9,239.2 788.2,243.6 788.6,247.7 788.9,251.7 789.2,255.4 789.6,259.0 789.9,262.4 790.3,265.6 790.6,268.7 790.9,271.6 791.3,274.3 791.6,277.0 792.0,279.5 792.3,281.9 792.7,284.2 793.0,286.3 793.3,288.4 793.7,290.3 794.0,292.2 794.4,294.0 794.7,295.6 795.0,297.2 795.4,298.8 795.7,300.2 796.1,301.6 796.4,302.9 796.7,304.1 797.1,305.3 797.4,306.5 797.8,307.5 798.1,308.6 798.4,309.5 798.8,310.5 799.1,311.3 799.5,312.2 799.8,313.0 800.1,313.7 800.5,314.4 800.8,315.1 801.2,315.8 801.5,316.4 801.9,317.0 802.2,317.5 802.5,318.1 802.9,318.6 803.2,319.1 803.6,319.5 803.9,320.0 804.2,320.4 804.6,320.8 804.9,321.1 805.3,321.5 805.6,321.8 805.9,322.2 806.3,322.5 806.6,322.8 807.0,323.0 807.3,323.3 807.6,323.6 808.0,323.8 808.3,324.0 808.7,324.2 809.0,324.4 809.3,324.6 809.7,324.8 810.0,325.0 810.4,325.2 810.7,325.3 811.1,325.5 811.4,325.6 811.7,325.8 812.1,325.9 812.4,326.0 812.8,326.1 813.1,326.3 813.4,326.4 813.8,326.5 814.1,326.6 814.5,326.7 814.8,326.7 815.1,326.8 815.5,326.9 815.8,327.0 816.2,327.1 816.5,327.1 816.8,327.2 817.2,327.3 817.5,327.3 817.9,327.4 818.2,327.4 818.5,327.5 818.9,327.5 819.2,327.6 819.6,327.6 819.9,327.7 820.3,327.7 820.6,327.7 820.9,327.8 821.3,327.8 821.6,327.8 822.0,327.9 822.3,327.9 822.6,327.9 823.0,327.9 823.3,328.0 823.7,328.0 824.0,328.0 824.3,328.0 824.7,328.1 825.0,328.1 825.4,328.1 825.7,328.1 826.0,328.1 826.4,328.2 826.7,328.2 827.1,328.2 827.4,328.2 827.7,328.2 828.1,328.2 828.4,328.2 828.8,328.2 829.1,328.3 829.5,328.3 829.8,328.3 830.1,328.3 830.5,328.3 830.8,328.3 831.2,328.3 831.5,328.3 831.8,328.3 832.2,328.3 832.5,328.3 832.9,328.3 833.2,328.3 833.5,328.4 833.9,328.4 834.2,328.4 834.6,328.4 834.9,328.4 835.2,328.4 835.6,328.4 835.9,328.4 836.3,328.4 836.6,328.4 836.9,328.4 837.3,328.4 837.6,328.4 838.0,328.4 838.3,328.4 838.7,328.4 839.0,328.4 839.3,328.4 839.7,328.4 840.0,328.4 840.4,328.4 840.7,328.4 841.0,328.4 841.4,328.4 841.7,328.4 842.1,328.4 842.4,328.4 842.7,328.4 843.1,328.4 843.4,328.4 843.8,328.4 844.1,328.4 844.4,328.4 844.8,328.4 845.1,328.4 845.5,328.4 845.8,328.4 846.1,328.4 846.5,328.4 846.8,328.4 847.2,328.4 847.5,328.5 847.9,328.5 848.2,328.5 848.5,328.5 848.9,328.5 849.2,328.5 849.6,328.5 849.9,328.5 850.2,328.5 850.6,328.5 850.9,328.5 851.3,328.5 851.6,328.5 851.9,328.5 852.3,328.5 852.6,328.5 853.0,328.5 853.3,328.5 853.6,328.5 854.0,328.5 854.3,328.5 854.7,328.5 855.0,328.5 855.3,328.5 855.7,328.5 856.0,328.5 856.4,328.5 856.7,328.5 857.1,328.5 857.4,328.5 857.7,328.5 858.1,328.5 858.4,328.5 858.8,328.5 859.1,328.5 859.4,328.5 859.8,328.5 860.1,328.5 860.5,328.5 860.8,328.5 861.1,328.5 861.5,328.5 861.8,328.5 862.2,328.5 862.5,328.5 862.8,328.5 863.2,328.5 863.5,328.5 863.9,328.5 864.2,328.5 864.5,328.5 864.9,328.5 865.2,328.5 865.6,328.5 865.9,328.5 866.3,328.5 866.6,328.5 866.9,328.5 867.3,328.5 867.6,328.5 868.0,328.5 868.3,328.5 868.6,328.5 869.0,328.5 869.3,328.5 869.7,328.5 870.0,328.5 870.3,328.5 870.7,328.5 871.0,328.5 871.4,328.5 871.7,328.5 872.0,328.5 872.4,328.5 872.7,328.5 873.1,328.5 873.4,328.5 873.7,328.5 874.1,328.5 874.4,328.5 874.8,328.5 875.1,328.5 875.5,328.5 875.8,328.5 876.1,328.5 876.5,328.5 876.8,328.5 877.2,328.5 877.5,328.5 877.8,328.5 878.2,328.5 878.5,328.5 878.9,328.5 879.2,328.5 879.5,328.5 879.9,328.5 880.2,328.5 880.6,328.5 880.9,328.5 881.2,328.5 881.6,328.5 881.9,328.5 882.3,328.5 882.6,328.5 883.0,328.5 883.3,328.5 883.6,328.5 884.0,328.5 884.3,328.5 884.7,328.5 885.0,328.5 885.3,328.5 885.7,328.5 886.0,328.5 886.4,328.5 886.7,328.5 887.0,328.5 887.4,328.5 887.7,328.5 888.1,328.5 888.4,328.5 888.7,328.5 889.1,328.5 889.4,328.5 889.8,328.5 890.1,328.5 890.4,328.5 890.8,328.5 891.1,328.5 891.5,328.5 891.8,328.5 892.2,328.5 892.5,328.5 892.8,328.5 893.2,328.5 893.5,328.5 893.9,328.5 894.2,328.5 894.5,328.5 894.9,328.5 895.2,328.5 895.6,328.5 895.9,328.5 896.2,328.5 896.6,328.5 896.9,328.5 897.3,328.5 897.6,328.5 897.9,328.5 898.3,328.5 898.6,328.5 899.0,328.5 899.3,328.5 899.6,328.5 900.0,328.5 900.3,328.5 900.7,328.5 901.0,328.5 901.4,328.5 901.7,328.5 902.0,328.5 902.4,328.5 902.7,328.5 903.1,328.5 903.4,328.5 903.7,328.5 904.1,328.5 904.4,328.5 904.8,328.5 905.1,328.5 905.4,328.5 905.8,328.5 906.1,328.5 906.5,328.5 906.8,328.5 907.1,328.5 907.5,328.5 907.8,328.5 908.2,328.5 908.5,328.5 908.8,328.5 909.2,328.5 909.5,328.5 909.9,328.5 910.2,328.5 910.6,328.5 910.9,328.5 911.2,328.5 911.6,328.5 911.9,328.5 912.3,328.5 912.6,328.5 912.9,328.5 913.3,328.5 913.6,328.5 914.0,328.5 914.3,328.5 914.6,328.5 915.0,328.5 915.3,328.5 915.7,328.5 916.0,328.5 916.3,328.5 916.7,328.5 917.0,328.5 917.4,328.5 917.7,328.5 918.0,328.5 918.4,328.5 918.7,328.5 919.1,328.5 919.4,328.5 919.8,328.5 920.1,328.5 920.4,328.5 920.8,328.5 921.1,328.5 921.5,328.5 921.8,328.5 922.1,328.5 922.5,328.5 922.8,328.5 923.2,328.5 923.5,328.5 923.8,328.5 924.2,328.5 924.5,328.5 924.9,328.5 925.2,328.5 925.5,328.5 925.9,328.5 926.2,328.5 926.6,328.5 926.9,328.5 927.2,328.5 927.6,328.5 927.9,328.5 928.3,328.5 928.6,328.5 929.0,328.5 929.3,328.5 929.6,328.5 930.0,328.5 930.3,328.5 930.7,328.5 931.0,328.5 931.3,328.5 931.7,328.5 932.0,328.5 932.4,328.5 932.7,328.5 933.0,328.5 933.4,328.5 933.7,328.5 934.1,328.5 934.4,328.5 934.7,328.5 935.1,328.5 935.4,328.5 935.8,328.5 936.1,328.5 936.4,328.5 936.8,328.5 937.1,328.5 937.5,328.5 937.8,328.5 938.2,328.5 938.5,328.5 938.8,328.5 939.2,328.5 939.5,328.5 939.9,328.5 940.2,328.5 940.5,328.5 940.9,328.5 941.2,328.5 941.6,328.5 941.9,328.5 942.2,328.5 942.6,328.5 942.9,328.5 943.3,328.5 943.6,328.5 943.9,328.5 944.3,328.5 944.6,328.5 945.0,328.5 945.3,328.5 945.6,328.5 946.0,328.5 946.3,328.5 946.7,328.5 947.0,328.5 947.4,328.5 947.7,328.5 948.0,328.5 948.4,328.5 948.7,328.5 949.1,328.5 949.4,328.5 949.7,328.5 950.1,328.5 950.4,328.5 950.8,328.5 951.1,328.5" fill="none" stroke="#000080" stroke-width="6" stroke-linejoin="round"/>
<polyline points="1240.0,143.9 1240.6,115.6 1241.3,125.8 1241.9,117.7 1242.5,124.3 1243.1,120.1 1243.7,112.6 1244.3,131.4 1245.0,131.3 1245.6,124.3 1246.2,112.5 1246.8,150.3 1247.4,125.2 1248.0,129.2 1248.7,126.3 1249.3,138.5 1249.9,124.4 1250.5,116.2 1251.1,138.2 1251.7,103.8 1252.4,122.5 1253.0,119.9 1253.6,119.7 1254.2,113.0 1254.8,142.3 1255.5,128.3 1256.1,116.4 1256.7,138.1 1257.3,151.9 1257.9,130.6 1258.5,150.1 1259.2,142.0 1259.8,140.4 1260.4,143.6 1261.0,134.5 1261.6,129.9 1262.2,149.4 1262.9,140.9 1263.5,128.2 1264.1,158.1 1264.7,129.8 1265.3,105.9 1265.9,128.0 1266.6,127.3 1267.2,121.3 1267.8,127.0 1268.4,125.7 1269.0,108.9 1269.6,151.2 1270.3,125.8 1270.9,125.5 1271.5,112.9 1272.1,116.5 1272.7,104.2 1273.3,105.2 1274.0,79.9 1274.6,140.9 1275.2,141.2 1275.8,162.7 1276.4,161.5 1277.0,151.4 1277.7,187.8 1278.3,188.1 1278.9,176.3 1279.5,192.9 1280.1,189.4 1280.7,176.1 1281.4,189.7 1282.0,209.8 1282.6,204.1 1283.2,207.4 1283.8,212.2 1284.5,229.3 1285.1,211.8 1285.7,203.7 1286.3,232.7 1286.9,237.8 1287.5,218.4 1288.2,222.2 1288.8,230.0 1289.4,247.0 1290.0,228.4 1290.6,247.1 1291.2,260.7 1291.9,246.0 1292.5,231.0 1293.1,235.2 1293.7,235.1 1294.3,235.6 1294.9,224.6 1295.6,260.4 1296.2,261.0 1296.8,235.7 1297.4,243.5 1298.0,254.3 1298.6,257.3 1299.3,254.7 1299.9,252.9 1300.5,262.5 1301.1,266.4 1301.7,256.6 1302.3,257.9 1303.0,266.6 1303.6,259.8 1304.2,253.2 1304.8,223.8 1305.4,276.6 1306.0,261.9 1306.7,284.2 1307.3,259.4 1307.9,254.1 1308.5,250.0 1309.1,264.1 1309.7,269.3 1310.4,254.7 1311.0,252.9 1311.6,286.9 1312.2,269.8 1312.8,270.2 1313.4,271.9 1314.1,276.1 1314.7,246.8 1315.3,261.3 1315.9,258.3 1316.5,274.1 1317.2,253.5 1317.8,269.5 1318.4,275.0 1319.0,289.9 1319.6,259.9 1320.2,282.1 1320.9,289.0 1321.5,261.6 1322.1,281.7 1322.7,272.3 1323.3,261.0 1323.9,296.0 1324.6,275.9 1325.2,275.6 1325.8,252.0 1326.4,272.8 1327.0,264.1 1327.6,261.9 1328.3,269.2 1328.9,269.0 1329.5,284.8 1330.1,277.4 1330.7,277.5 1331.3,279.7 1332.0,261.5 1332.6,265.4 1333.2,274.1 1333.8,273.0 1334.4,280.2 1335.0,271.8 1335.7,314.5 1336.3,285.5 1336.9,265.0 1337.5,267.0 1338.1,261.7 1338.7,250.5 1339.4,212.5 1340.0,247.7 1340.6,222.6 1341.2,215.8 1341.8,192.7 1342.4,193.2 1343.1,202.2 1343.7,187.5 1344.3,205.7 1344.9,190.8 1345.5,192.1 1346.2,171.2 1346.8,178.7 1347.4,148.4 1348.0,174.7 1348.6,167.0 1349.2,163.9 1349.9,138.2 1350.5,161.0 1351.1,179.4 1351.7,182.0 1352.3,150.9 1352.9,146.8 1353.6,159.3 1354.2,148.2 1354.8,141.2 1355.4,129.6 1356.0,161.0 1356.6,149.0 1357.3,162.3 1357.9,136.5 1358.5,148.8 1359.1,155.6 1359.7,135.4 1360.3,136.6 1361.0,144.3 1361.6,134.3 1362.2,165.3 1362.8,154.7 1363.4,142.4 1364.0,140.2 1364.7,120.4 1365.3,116.3 1365.9,125.3 1366.5,137.5 1367.1,144.1 1367.7,132.2 1368.4,145.0 1369.0,156.6 1369.6,148.8 1370.2,142.0 1370.8,109.2 1371.4,130.1 1372.1,134.4 1372.7,131.9 1373.3,140.0 1373.9,113.6 1374.5,123.7 1375.1,109.0 1375.8,141.3 1376.4,139.2 1377.0,108.1 1377.6,143.6 1378.2,129.7 1378.9,121.0 1379.5,132.9 1380.1,144.3 1380.7,127.6 1381.3,113.7 1381.9,121.0 1382.6,130.5 1383.2,102.1 1383.8,108.3 1384.4,116.0 1385.0,123.1 1385.6,110.7 1386.3,121.4 1386.9,125.6 1387.5,130.3 1388.1,112.8 1388.7,112.2 1389.3,118.4 1390.0,106.9 1390.6,129.5 1391.2,117.1 1391.8,117.1 1392.4,128.9 1393.0,123.5 1393.7,121.4 1394.3,114.9 1394.9,125.1 1395.5,139.0 1396.1,150.2 1396.7,115.9 1397.4,81.2 1398.0,104.3 1398.6,128.9 1399.2,160.4 1399.8,175.3 1400.4,156.8 1401.1,171.9 1401.7,188.3 1402.3,191.3 1402.9,190.6 1403.5,210.2 1404.1,193.5 1404.8,179.8 1405.4,210.8 1406.0,215.1 1406.6,220.8 1407.2,199.0 1407.9,223.0 1408.5,226.7 1409.1,221.1 1409.7,224.3 1410.3,221.7 1410.9,218.8 1411.6,232.6 1412.2,244.0 1412.8,232.7 1413.4,245.3 1414.0,237.9 1414.6,220.2 1415.3,239.0 1415.9,231.5 1416.5,233.2 1417.1,242.4 1417.7,241.4 1418.3,219.9 1419.0,236.3 1419.6,244.7 1420.2,240.7 1420.8,251.2 1421.4,239.1 1422.0,247.3 1422.7,236.1 1423.3,246.9 1423.9,248.0 1424.5,226.3 1425.1,252.5 1425.7,243.9 1426.4,259.6 1427.0,225.9 1427.6,265.0 1428.2,257.4 1428.8,259.0 1429.4,256.8 1430.1,272.2 1430.7,263.5 1431.3,249.4 1431.9,257.5 1432.5,246.2 1433.1,265.0 1433.8,261.1 1434.4,244.5 1435.0,264.1 1435.6,259.5 1436.2,252.2 1436.8,266.1 1437.5,274.4 1438.1,262.0 1438.7,261.0 1439.3,275.8 1439.9,272.7 1440.6,255.8 1441.2,242.8 1441.8,272.0 1442.4,243.2 1443.0,260.2 1443.6,274.9 1444.3,273.9 1444.9,278.9 1445.5,255.9 1446.1,253.2 1446.7,280.3 1447.3,280.1 1448.0,262.1 1448.6,271.7 1449.2,289.6 1449.8,278.7 1450.4,276.1 1451.0,272.7 1451.7,270.7 1452.3,273.7 1452.9,259.4 1453.5,290.1 1454.1,281.9 1454.7,284.9 1455.4,281.2 1456.0,271.2 1456.6,265.7 1457.2,272.6 1457.8,300.4 1458.4,288.4 1459.1,282.8 1459.7,263.6 1460.3,266.3 1460.9,260.8 1461.5,273.3 1462.1,244.3 1462.8,235.8 1463.4,244.6 1464.0,189.4 1464.6,227.1 1465.2,200.3 1465.8,179.4 1466.5,196.8 1467.1,176.8 1467.7,160.1 1468.3,180.2 1468.9,184.7 1469.6,163.1 1470.2,167.4 1470.8,175.3 1471.4,161.0 1472.0,172.1 1472.6,151.8 1473.3,153.2 1473.9,133.1 1474.5,173.3 1475.1,175.8 1475.7,157.6 1476.3,155.8 1477.0,140.6 1477.6,144.2 1478.2,169.3 1478.8,153.3 1479.4,134.2 1480.0,167.9 1480.7,142.0 1481.3,156.1 1481.9,145.6 1482.5,135.4 1483.1,119.7 1483.7,137.9 1484.4,145.3 1485.0,143.7 1485.6,135.3 1486.2,134.8 1486.8,144.3" fill="none" stroke="#0000ff" stroke-width="1.5" stroke-linejoin="round"/>
<polyline points="1240.0,108.4 1240.6,118.2 1241.3,133.4 1241.9,104.6 1242.5,127.1 1243.1,104.3 1243.7,116.4 1244.3,111.5 1245.0,118.0 1245.6,131.5 1246.2,122.5 1246.8,124.6 1247.4,130.8 1248.0,114.5 1248.7,133.6 1249.3,133.3 1249.9,128.7 1250.5,134.2 1251.1,120.1 1251.7,113.3 1252.4,119.7 1253.0,123.1 1253.6,112.2 1254.2,113.6 1254.8,103.3 1255.5,126.3 1256.1,117.5 1256.7,124.0 1257.3,125.9 1257.9,122.3 1258.5,112.5 1259.2,125.9 1259.8,132.3 1260.4,101.8 1261.0,118.4 1261.6,116.0 1262.2,111.7 1262.9,107.4 1263.5,110.5 1264.1,128.2 1264.7,123.0 1265.3,108.2 1265.9,120.2 1266.6,106.0 1267.2,104.4 1267.8,132.8 1268.4,120.9 1269.0,130.3 1269.6,127.0 1270.3,119.5 1270.9,112.3 1271.5,106.8 1272.1,122.6 1272.7,106.9 1273.3,107.3 1274.0,81.2 1274.6,114.8 1275.2,144.8 1275.8,139.5 1276.4,145.9 1277.0,134.0 1277.7,161.5 1278.3,170.6 1278.9,162.1 1279.5,190.3 1280.1,185.6 1280.7,162.8 1281.4,176.8 1282.0,191.1 1282.6,187.6 1283.2,217.0 1283.8,193.8 1284.5,215.0 1285.1,207.7 1285.7,215.1 1286.3,212.2 1286.9,224.6 1287.5,241.6 1288.2,250.6 1288.8,246.3 1289.4,225.4 1290.0,236.6 1290.6,249.3 1291.2,217.0 1291.9,231.5 1292.5,244.2 1293.1,249.7 1293.7,229.1 1294.3,239.8 1294.9,254.3 1295.6,241.8 1296.2,261.4 1296.8,226.2 1297.4,247.1 1298.0,243.6 1298.6,256.6 1299.3,260.3 1299.9,250.5 1300.5,259.9 1301.1,270.2 1301.7,244.2 1302.3,254.9 1303.0,267.6 1303.6,248.8 1304.2,256.7 1304.8,259.5 1305.4,274.8 1306.0,256.7 1306.7,282.1 1307.3,270.4 1307.9,243.7 1308.5,254.4 1309.1,275.9 1309.7,270.6 1310.4,259.0 1311.0,251.2 1311.6,262.8 1312.2,262.3 1312.8,253.5 1313.4,248.0 1314.1,279.1 1314.7,268.6 1315.3,252.6 1315.9,258.2 1316.5,278.7 1317.2,288.9 1317.8,251.5 1318.4,268.9 1319.0,265.2 1319.6,271.9 1320.2,256.9 1320.9,255.8 1321.5,252.4 1322.1,283.1 1322.7,272.2 1323.3,260.0 1323.9,271.4 1324.6,270.1 1325.2,251.3 1325.8,269.2 1326.4,285.9 1327.0,249.2 1327.6,261.9 1328.3,268.8 1328.9,264.8 1329.5,264.0 1330.1,271.0 1330.7,262.5 1331.3,273.0 1332.0,263.6 1332.6,246.1 1333.2,274.9 1333.8,300.3 1334.4,254.5 1335.0,267.4 1335.7,280.5 1336.3,268.4 1336.9,291.1 1337.5,263.3 1338.1,299.0 1338.7,267.4 1339.4,258.6 1340.0,279.4 1340.6,269.1 1341.2,269.5 1341.8,295.0 1342.4,279.3 1343.1,255.8 1343.7,274.4 1344.3,249.3 1344.9,274.6 1345.5,280.0 1346.2,278.4 1346.8,283.5 1347.4,301.5 1348.0,277.8 1348.6,260.7 1349.2,286.8 1349.9,287.4 1350.5,283.7 1351.1,263.8 1351.7,263.5 1352.3,283.5 1352.9,269.3 1353.6,263.6 1354.2,277.1 1354.8,281.7 1355.4,268.6 1356.0,287.3 1356.6,275.6 1357.3,269.5 1357.9,257.9 1358.5,266.8 1359.1,272.8 1359.7,288.9 1360.3,269.9 1361.0,278.9 1361.6,256.5 1362.2,278.0 1362.8,278.0 1363.4,286.0 1364.0,280.7 1364.7,274.5 1365.3,292.3 1365.9,284.0 1366.5,294.2 1367.1,295.7 1367.7,273.2 1368.4,288.1 1369.0,285.3 1369.6,276.4 1370.2,289.6 1370.8,285.5 1371.4,283.1 1372.1,289.2 1372.7,290.8 1373.3,267.2 1373.9,275.2 1374.5,273.3 1375.1,296.4 1375.8,286.5 1376.4,271.9 1377.0,272.3 1377.6,292.0 1378.2,277.3 1378.9,264.7 1379.5,273.5 1380.1,283.7 1380.7,289.3 1381.3,302.3 1381.9,286.0 1382.6,281.3 1383.2,282.9 1383.8,284.7 1384.4,273.9 1385.0,269.3 1385.6,294.7 1386.3,281.6 1386.9,283.6 1387.5,281.9 1388.1,288.2 1388.7,276.6 1389.3,270.0 1390.0,288.9 1390.6,287.6 1391.2,269.9 1391.8,296.4 1392.4,275.9 1393.0,283.6 1393.7,293.2 1394.3,280.4 1394.9,286.6 1395.5,279.2 1396.1,277.6 1396.7,285.9 1397.4,323.6 1398.0,296.7 1398.6,276.0 1399.2,291.2 1399.8,260.2 1400.4,239.9 1401.1,240.0 1401.7,217.6 1402.3,229.6 1402.9,222.4 1403.5,212.0 1404.1,224.8 1404.8,176.6 1405.4,209.2 1406.0,194.6 1406.6,218.0 1407.2,185.2 1407.9,195.8 1408.5,174.0 1409.1,178.3 1409.7,161.3 1410.3,181.1 1410.9,171.7 1411.6,175.1 1412.2,167.7 1412.8,177.4 1413.4,170.1 1414.0,153.3 1414.6,154.7 1415.3,178.2 1415.9,160.0 1416.5,160.1 1417.1,173.7 1417.7,151.5 1418.3,167.6 1419.0,152.0 1419.6,143.6 1420.2,162.1 1420.8,146.2 1421.4,142.6 1422.0,158.7 1422.7,144.6 1423.3,131.6 1423.9,135.8 1424.5,157.8 1425.1,176.8 1425.7,151.7 1426.4,158.6 1427.0,131.2 1427.6,152.3 1428.2,125.8 1428.8,159.5 1429.4,150.8 1430.1,141.5 1430.7,155.2 1431.3,121.3 1431.9,150.8 1432.5,134.5 1433.1,136.1 1433.8,119.7 1434.4,115.5 1435.0,138.1 1435.6,133.7 1436.2,130.7 1436.8,139.0 1437.5,124.6 1438.1,153.1 1438.7,145.4 1439.3,152.8 1439.9,133.2 1440.6,119.3 1441.2,130.5 1441.8,138.1 1442.4,136.1 1443.0,118.1 1443.6,136.2 1444.3,140.8 1444.9,131.6 1445.5,154.6 1446.1,134.8 1446.7,133.3 1447.3,136.1 1448.0,141.3 1448.6,106.8 1449.2,117.9 1449.8,120.2 1450.4,118.2 1451.0,142.8 1451.7,131.8 1452.3,131.8 1452.9,131.0 1453.5,120.6 1454.1,129.8 1454.7,111.5 1455.4,129.3 1456.0,126.2 1456.6,116.6 1457.2,123.8 1457.8,141.0 1458.4,121.2 1459.1,135.5 1459.7,107.9 1460.3,104.4 1460.9,137.2 1461.5,115.9 1462.1,130.4 1462.8,148.5 1463.4,118.3 1464.0,113.5 1464.6,104.0 1465.2,121.5 1465.8,134.4 1466.5,110.9 1467.1,124.7 1467.7,122.4 1468.3,117.7 1468.9,133.4 1469.6,116.5 1470.2,124.9 1470.8,142.1 1471.4,117.2 1472.0,142.9 1472.6,132.5 1473.3,117.4 1473.9,133.9 1474.5,113.7 1475.1,138.2 1475.7,121.6 1476.3,113.6 1477.0,128.4 1477.6,129.8 1478.2,125.5 1478.8,136.5 1479.4,129.0 1480.0,128.1 1480.7,133.6 1481.3,115.2 1481.9,113.9 1482.5,123.1 1483.1,114.5 1483.7,105.6 1484.4,129.8 1485.0,95.7 1485.6,131.4 1486.2,122.8 1486.8,111.5 1487.4,133.1 1488.1,120.8 1488.7,125.3 1489.3,118.6 1489.9,100.5 1490.5,131.4 1491.1,130.5 1491.8,126.2 1492.4,132.3 1493.0,128.7 1493.6,133.9 1494.2,107.3 1494.8,120.6 1495.5,109.1 1496.1,111.3 1496.7,136.2 1497.3,116.7 1497.9,109.9 1498.5,126.5 1499.2,120.5 1499.8,120.6 1500.4,135.6 1501.0,126.3 1501.6,111.6 1502.3,116.4 1502.9,112.2 1503.5,132.3 1504.1,125.5 1504.7,107.8 1505.3,136.5 1506.0,120.9 1506.6,134.0 1507.2,117.7 1507.8,106.3 1508.4,102.7 1509.0,131.1 1509.7,119.3 1510.3,142.6 1510.9,113.8 1511.5,126.0 1512.1,92.3 1512.7,135.3 1513.4,131.1 1514.0,126.4 1514.6,107.7 1515.2,136.3 1515.8,107.5 1516.4,125.7 1517.1,109.3 1517.7,127.0 1518.3,130.6 1518.9,113.2 1519.5,120.0 1520.1,119.3 1520.8,82.5 1521.4,95.3 1522.0,93.8 1522.6,112.4 1523.2,105.8 1523.8,123.2 1524.5,98.3 1525.1,133.6" fill="none" stroke="#008000" stroke-width="1.5" stroke-linejoin="round"/>
<line x1="610.5" y1="72" x2="610.5" y2="337.7" stroke="#000" stroke-width="3"/>
<line x1="609" y1="336.2" x2="1223" y2="336.2" stroke="#000" stroke-width="3"/>
<line x1="1240.5" y1="336.2" x2="1525" y2="336.2" stroke="#000" stroke-width="3"/>
<line x1="595" y1="331.3" x2="611" y2="331.3" stroke="#000" stroke-width="3"/>
<line x1="602" y1="305.5" x2="611" y2="305.5" stroke="#000" stroke-width="3"/>
<line x1="602" y1="279.7" x2="611" y2="279.7" stroke="#000" stroke-width="3"/>
<line x1="602" y1="254.0" x2="611" y2="254.0" stroke="#000" stroke-width="3"/>
<line x1="602" y1="228.2" x2="611" y2="228.2" stroke="#000" stroke-width="3"/>
<line x1="595" y1="202.4" x2="611" y2="202.4" stroke="#000" stroke-width="3"/>
<line x1="602" y1="176.6" x2="611" y2="176.6" stroke="#000" stroke-width="3"/>
<line x1="602" y1="150.8" x2="611" y2="150.8" stroke="#000" stroke-width="3"/>
<line x1="602" y1="125.1" x2="611" y2="125.1" stroke="#000" stroke-width="3"/>
<line x1="602" y1="99.3" x2="611" y2="99.3" stroke="#000" stroke-width="3"/>
<line x1="595" y1="73.5" x2="611" y2="73.5" stroke="#000" stroke-width="3"/>
<line x1="624.0" y1="335" x2="624.0" y2="343.5" stroke="#000" stroke-width="3"/>
<line x1="651.2" y1="335" x2="651.2" y2="343.5" stroke="#000" stroke-width="3"/>
<line x1="678.5" y1="335" x2="678.5" y2="351" stroke="#000" stroke-width="3"/>
<line x1="705.8" y1="335" x2="705.8" y2="343.5" stroke="#000" stroke-width="3"/>
<line x1="733.0" y1="335" x2="733.0" y2="343.5" stroke="#000" stroke-width="3"/>
<line x1="760.3" y1="335" x2="760.3" y2="343.5" stroke="#000" stroke-width="3"/>
<line x1="787.5" y1="335" x2="787.5" y2="343.5" stroke="#000" stroke-width="3"/>
<line x1="814.8" y1="335" x2="814.8" y2="351" stroke="#000" stroke-width="3"/>
<line x1="842.1" y1="335" x2="842.1" y2="343.5" stroke="#000" stroke-width="3"/>
<line x1="869.3" y1="335" x2="869.3" y2="343.5" stroke="#000" stroke-width="3"/>
<line x1="896.6" y1="335" x2="896.6" y2="343.5" stroke="#000" stroke-width="3"/>
<line x1="923.8" y1="335" x2="923.8" y2="343.5" stroke="#000" stroke-width="3"/>
<line x1="951.1" y1="335" x2="951.1" y2="351" stroke="#000" stroke-width="3"/>
<line x1="978.4" y1="335" x2="978.4" y2="343.5" stroke="#000" stroke-width="3"/>
<line x1="1005.6" y1="335" x2="1005.6" y2="343.5" stroke="#000" stroke-width="3"/>
<line x1="1032.9" y1="335" x2="1032.9" y2="343.5" stroke="#000" stroke-width="3"/>
<line x1="1060.1" y1="335" x2="1060.1" y2="343.5" stroke="#000" stroke-width="3"/>
<line x1="1087.4" y1="335" x2="1087.4" y2="351" stroke="#000" stroke-width="3"/>
<line x1="1114.7" y1="335" x2="1114.7" y2="343.5" stroke="#000" stroke-width="3"/>
<line x1="1141.9" y1="335" x2="1141.9" y2="343.5" stroke="#000" stroke-width="3"/>
<line x1="1169.2" y1="335" x2="1169.2" y2="343.5" stroke="#000" stroke-width="3"/>
<line x1="1196.4" y1="335" x2="1196.4" y2="343.5" stroke="#000" stroke-width="3"/>
<line x1="1239.8" y1="335" x2="1239.8" y2="343.5" stroke="#000" stroke-width="3"/>
<line x1="1264.5" y1="335" x2="1264.5" y2="343.5" stroke="#000" stroke-width="3"/>
<line x1="1289.1" y1="335" x2="1289.1" y2="343.5" stroke="#000" stroke-width="3"/>
<line x1="1313.8" y1="335" x2="1313.8" y2="343.5" stroke="#000" stroke-width="3"/>
<line x1="1338.5" y1="335" x2="1338.5" y2="351" stroke="#000" stroke-width="3"/>
<line x1="1363.2" y1="335" x2="1363.2" y2="343.5" stroke="#000" stroke-width="3"/>
<line x1="1387.9" y1="335" x2="1387.9" y2="343.5" stroke="#000" stroke-width="3"/>
<line x1="1412.5" y1="335" x2="1412.5" y2="343.5" stroke="#000" stroke-width="3"/>
<line x1="1437.2" y1="335" x2="1437.2" y2="343.5" stroke="#000" stroke-width="3"/>
<line x1="1461.9" y1="335" x2="1461.9" y2="351" stroke="#000" stroke-width="3"/>
<line x1="1486.6" y1="335" x2="1486.6" y2="343.5" stroke="#000" stroke-width="3"/>
<line x1="1511.3" y1="335" x2="1511.3" y2="343.5" stroke="#000" stroke-width="3"/>
<line x1="1216" y1="350.6" x2="1231.8" y2="321" stroke="#000" stroke-width="2.6"/>
<line x1="1231.8" y1="350.6" x2="1247.5" y2="321" stroke="#000" stroke-width="2.6"/>
<rect x="1483.5" y="190" width="164.5" height="129.5" fill="#fff" stroke="#000" stroke-width="2"/>
<line x1="1491" y1="206.8" x2="1537.5" y2="206.8" stroke="#808080" stroke-width="1.5"/>
<text x="1543.5" y="214.0" font-family="Liberation Sans, Arial, sans-serif" font-size="19.5" fill="#000" textLength="105" lengthAdjust="spacingAndGlyphs">glass; 2kHz</text>
<text x="1491.5" y="239.5" font-family="Liberation Sans, Arial, sans-serif" font-size="19.5" fill="#000" textLength="101.5" lengthAdjust="spacingAndGlyphs">SiN 30 nm:</text>
<line x1="1491" y1="257.8" x2="1537.5" y2="257.8" stroke="#d03030" stroke-width="1.5"/>
<text x="1543.5" y="265.0" font-family="Liberation Sans, Arial, sans-serif" font-size="19.5" fill="#000" textLength="52" lengthAdjust="spacingAndGlyphs">2 kHz</text>
<line x1="1491" y1="283.2" x2="1537.5" y2="283.2" stroke="#1a7a1a" stroke-width="1.5"/>
<text x="1543.5" y="290.4" font-family="Liberation Sans, Arial, sans-serif" font-size="19.5" fill="#000" textLength="52" lengthAdjust="spacingAndGlyphs">5 kHz</text>
<line x1="1491" y1="308.6" x2="1537.5" y2="308.6" stroke="#3030e8" stroke-width="1.5"/>
<text x="1543.5" y="315.8" font-family="Liberation Sans, Arial, sans-serif" font-size="19.5" fill="#000" textLength="63.5" lengthAdjust="spacingAndGlyphs">10 kHz</text>
<text x="585.3" y="82.1" font-family="Liberation Sans, Arial, sans-serif" font-size="31.8" fill="#000" text-anchor="end" stroke="#000" stroke-width="0.3">1.0</text>
<text x="585.3" y="211.0" font-family="Liberation Sans, Arial, sans-serif" font-size="31.8" fill="#000" text-anchor="end" stroke="#000" stroke-width="0.3">0.5</text>
<text x="585.3" y="339.9" font-family="Liberation Sans, Arial, sans-serif" font-size="31.8" fill="#000" text-anchor="end" stroke="#000" stroke-width="0.3">0.0</text>
<text x="678.5" y="386.6" font-family="Liberation Sans, Arial, sans-serif" font-size="31.8" fill="#000" text-anchor="middle" stroke="#000" stroke-width="0.3">-0.4</text>
<text x="814.8" y="386.6" font-family="Liberation Sans, Arial, sans-serif" font-size="31.8" fill="#000" text-anchor="middle" stroke="#000" stroke-width="0.3">-0.2</text>
<text x="951.1" y="386.6" font-family="Liberation Sans, Arial, sans-serif" font-size="31.8" fill="#000" text-anchor="middle" stroke="#000" stroke-width="0.3">0.0</text>
<text x="1087.4" y="386.6" font-family="Liberation Sans, Arial, sans-serif" font-size="31.8" fill="#000" text-anchor="middle" stroke="#000" stroke-width="0.3">0.2</text>
<text x="1338.5" y="386.6" font-family="Liberation Sans, Arial, sans-serif" font-size="31.8" fill="#000" text-anchor="middle" stroke="#000" stroke-width="0.3">0.7</text>
<text x="1461.9" y="386.6" font-family="Liberation Sans, Arial, sans-serif" font-size="31.8" fill="#000" text-anchor="middle" stroke="#000" stroke-width="0.3">0.8</text>
<text x="1086" y="434.8" font-family="Liberation Sans, Arial, sans-serif" font-size="38.5" fill="#000" text-anchor="middle" stroke="#000" stroke-width="0.3">Time (ms)</text>
<text transform="translate(523,205) rotate(-90)" font-family="Liberation Sans, Arial, sans-serif" font-size="37" text-anchor="middle" textLength="268" lengthAdjust="spacingAndGlyphs" stroke="#000" stroke-width="0.3"><tspan font-family="Liberation Serif, serif" font-size="34.5">Δ</tspan>T (normalised)</text>
<text x="406.2" y="19.6" font-family="Liberation Sans, Arial, sans-serif" font-size="27" fill="#000" text-anchor="middle">(a)</text>
<text x="1568.5" y="19.6" font-family="Liberation Sans, Arial, sans-serif" font-size="27" fill="#000" text-anchor="middle">(b)</text>
<text x="793" y="198.9" font-size="31.5" fill="#000080" font-family="Liberation Sans, Arial, sans-serif" textLength="120" lengthAdjust="spacingAndGlyphs"><tspan font-family="Liberation Serif, serif">τ</tspan> = 10 µs</text>
</g>
</svg>
</body></html>
